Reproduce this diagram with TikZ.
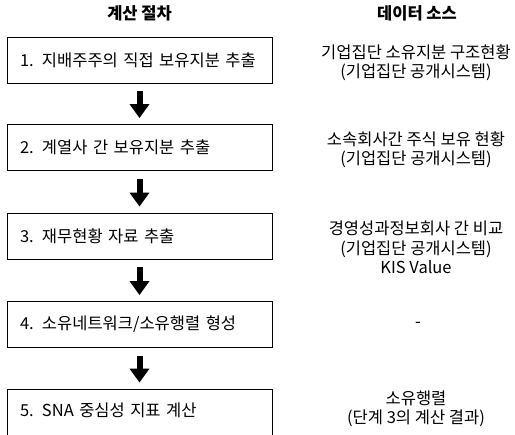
\documentclass[tikz,border=0pt]{standalone}
\usepackage{fontspec}
\setmainfont{Noto Sans CJK KR}
\usetikzlibrary{arrows.meta}
\tikzset{
  stepbox/.style={draw=black, line width=0.8pt, minimum width=265pt, minimum height=46pt,
    text width=239pt, align=left, inner xsep=13pt, inner ysep=0pt, font=\fontsize{16.5pt}{19pt}\selectfont},
  hdr/.style={font=\fontsize{16.5pt}{19pt}\selectfont\bfseries},
  src/.style={align=center, inner sep=0pt, font=\fontsize{16.5pt}{19.5pt}\selectfont},
  bigarrow/.style={line width=6pt, -{Triangle[length=14pt, width=19pt]}}
}
\begin{document}
\begin{tikzpicture}[x=1pt, y=-1pt]
\useasboundingbox (0,0) rectangle (515,435);
\node[hdr] (h1) at (139.5,13) {계산 절차};
\node[hdr] (h2) at (417,13) {데이터 소스};
\node[stepbox] (s1) at (139.5,60) {1. 지배주주의 직접 보유지분 추출};
\node[stepbox] (s2) at (139.5,147.5) {2. 계열사 간 보유지분 추출};
\node[stepbox] (s3) at (139.5,236) {3. 재무현황 자료 추출};
\node[stepbox] (s4) at (139.5,324.5) {4. 소유네트워크/소유행렬 형성};
\node[stepbox, minimum height=52pt, text depth=10pt] (s5) at (139.5,415) {5. SNA 중심성 지표 계산};
\draw[bigarrow] ([yshift=-8pt]s1.south) -- ([yshift=6pt]s2.north);
\draw[bigarrow] ([yshift=-8pt]s2.south) -- ([yshift=6pt]s3.north);
\draw[bigarrow] ([yshift=-8pt]s3.south) -- ([yshift=6pt]s4.north);
\draw[bigarrow] ([yshift=-8pt]s4.south) -- ([yshift=6pt]s5.north);
\node[src] (d1) at (416,62.5) {기업집단 소유지분 구조현황\\(기업집단 공개시스템)};
\node[src] (d2) at (416,149.5) {소속회사간 주식 보유 현황\\(기업집단 공개시스템)};
\node[src] (d3) at (416,247.5) {경영성과정보회사 간 비교\\(기업집단 공개시스템)\\KIS Value};
\node[src] (d4) at (418,325) {-};
\node[src] (d5) at (416,409) {소유행렬\\(단계 3의 계산 결과)};
\end{tikzpicture}
\end{document}
